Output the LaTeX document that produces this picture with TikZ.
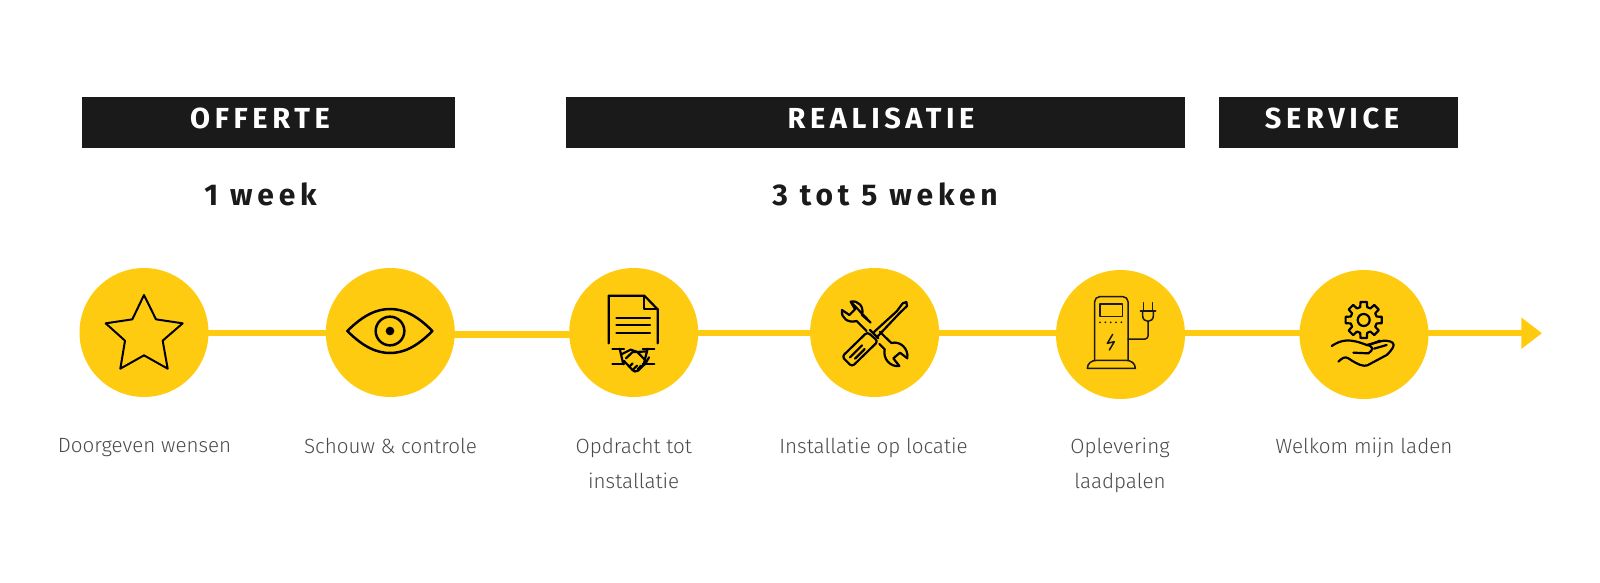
\documentclass[tikz,border=0pt]{standalone}
\usepackage{fontspec}
\usetikzlibrary{arrows.meta}
\setmainfont{Fira Sans Light}
\newfontfamily\headfont[LetterSpace=16]{Fira Sans}
\newfontfamily\weekfont[LetterSpace=16]{Fira Sans}
\definecolor{laadgeel}{HTML}{FFCB11}
\definecolor{balk}{HTML}{1A1A1A}
\definecolor{tekst}{HTML}{4A4A4A}
\tikzset{
  stapnode/.style={circle,fill=laadgeel,minimum size=64.5pt,inner sep=0},
  stroom/.style={draw=laadgeel,line width=3.25pt},
  balknode/.style={fill=balk,inner sep=0,anchor=north west},
  kop/.style={text=white,font=\headfont\bfseries\fontsize{14.5}{16}\selectfont,anchor=base},
  duur/.style={text=balk,font=\weekfont\bfseries\fontsize{15}{16}\selectfont,anchor=base},
  label/.style={text=tekst,font=\fontsize{10.3}{17.2}\selectfont,align=center,anchor=north,inner sep=0},
  % icons are typed in coordinates of the zoomed crop
  icoon/.style={shift={#1},x=0.16667pt,y=-0.16667pt,line join=round,line cap=round},
  lijn/.style={draw=black,line width=1.1pt},
  dunlijn/.style={draw=balk,line width=0.75pt}
}
\begin{document}
\begin{tikzpicture}[x=0.5pt,y=-0.5pt]
  \useasboundingbox (0,0) rectangle (1600,583);
  % BARS
  \node[balknode,minimum width=186.5pt,minimum height=25.4pt] (offerte) at (81.3,96.6) {};
  \node[balknode,minimum width=309.5pt,minimum height=25.4pt] (realisatie) at (566,96.6) {};
  \node[balknode,minimum width=119.5pt,minimum height=25.4pt] (service) at (1218.8,96.6) {};
  \node[kop] (kop1) at (260,128) {OFFERTE};
  \node[kop] (kop2) at (881,128) {REALISATIE};
  \node[kop] (kop3) at (1332,128) {SERVICE};
  \node[duur] (duur1) at (260.5,205) {1 week};
  \node[duur] (duur2) at (885,205) {3 tot 5 weken};
  % CIRCLES
  \node[stapnode] (n1) at (144,332.5) {};
  \node[stapnode] (n2) at (390.3,332.5) {};
  \node[stapnode] (n3) at (633.7,332.5) {};
  \node[stapnode] (n4) at (874.6,332.5) {};
  \node[stapnode] (n5) at (1120.5,334.5) {};
  \node[stapnode] (n6) at (1364,334.5) {};
  % LINE
  \coordinate (hoog) at (0,333.2);
  \coordinate (laag) at (0,334.3);
  \coordinate (tip) at (1542,333.2);
  \draw[stroom] (n1 |- hoog) -- (n2 |- hoog);
  \draw[stroom] (n2 |- laag) -- (n3 |- laag);
  \foreach \a/\b in {n3/n4,n4/n5,n5/n6}
    \draw[stroom] (\a |- hoog) -- (\b |- hoog);
  \draw[stroom,-{Triangle[length=10.3pt,width=15pt]}] (n6 |- hoog) -- (tip);
  % LABELS
  \node[label] (t1) at (144.5,438) {Doorgeven wensen};
  \node[label] (t2) at (390.5,438) {Schouw \& controle};
  \node[label] (t3) at (633.7,438) {Opdracht tot\\installatie};
  \node[label] (t4) at (873.5,438) {Installatie op locatie};
  \node[label] (t5) at (1120,438) {Oplevering\\laadpalen};
  \node[label] (t6) at (1364,438) {Welkom mijn laden};
  % STAR and EYE
  \begin{scope}[icoon={(60,250)}]
    \draw[lijn,line width=1pt] (252,135) -- (288,208) -- (368,220) -- (308,272) -- (323,356) -- (252,316)
      -- (181,356) -- (195,272) -- (137,220) -- (217,208) -- cycle;
    \draw[lijn,line width=1.25pt] (862,243) .. controls (910,195) and (950,177) .. (990,177)
      .. controls (1030,177) and (1070,195) .. (1117,243)
      .. controls (1070,291) and (1030,309) .. (990,309)
      .. controls (950,309) and (910,291) .. (862,243) -- cycle;
    \draw[lijn,line width=1.25pt] (990,243) circle[radius=43];
    \fill[black] (990,243) circle[radius=13];
  \end{scope}
  % DOCUMENT and TOOLS
  \begin{scope}[icoon={(550,250)}]
    \draw[lijn] (176,280) -- (176,137) -- (283,137) -- (323,178) -- (323,280);
    \draw[lijn] (283,137) -- (283,178) -- (323,178);
    \foreach \h in {204,226,248}
      \draw[lijn] (199,\h) -- (300,\h);
    % handshake
    \draw[lijn] (187,296) -- (222,296) (278,296) -- (313,296);
    \draw[lijn] (187,343) -- (222,343) (278,343) -- (313,343);
    \draw[lijn] (209,296) -- (220,343) (293,296) -- (281,343);
    \draw[lijn] (216,312) -- (242,299) -- (262,306) -- (290,304);
    \draw[lijn] (222,333) -- (240,352) .. controls (252,367) and (258,367) .. (264,362)
      -- (286,341) -- (297,322);
    \draw[lijn] (228,325) -- (248,306) -- (262,306) -- (290,335);
    \draw[lijn] (238,350) -- (248,340) (250,358) -- (261,347) (263,358) -- (273,347);
    % wrench
    \draw[lijn] (902,155) -- (915,178) -- (898,195) -- (876,180)
      .. controls (872,205) and (895,220) .. (920,213) -- (950,243)
      (988,282) -- (1004,298) .. controls (998,325) and (1020,352) .. (1048,348)
      -- (1030,325) -- (1050,308) -- (1072,325)
      .. controls (1076,295) and (1050,272) .. (1024,279) -- (990,246)
      (962,218) -- (936,195) .. controls (943,170) and (925,150) .. (902,155) -- cycle;
    % screwdriver
    \draw[lijn,rounded corners=1.5pt] (876,320) -- (952,246) -- (984,274) -- (906,350) -- cycle;
    \draw[lijn] (900,322) -- (936,286) (915,326) -- (944,297);
    \draw[lijn] (960,240) -- (985,265);
    \draw[lijn] (972,246) -- (1040,184) -- (1058,160) -- (1069,156) -- (1071,168) -- (1048,190) -- (984,258);
  \end{scope}
  % CHARGER and HAND
  \begin{scope}[icoon={(1020,250)}]
    \draw[dunlijn,rounded corners=2.5pt] (224,331) -- (224,140) -- (324,140) -- (324,331);
    \draw[dunlijn] (202,355) -- (346,355) .. controls (346,340) and (333,331) .. (318,331)
      -- (230,331) .. controls (215,331) and (202,340) .. (202,355) -- cycle;
    \draw[dunlijn] (240,162) rectangle (307,200);
    \foreach \p in {240,256,272,288,304}
      \fill[balk] (\p,217) circle[radius=3];
    \draw[dunlijn] (278,253) -- (262,280) -- (283,275) -- (268,300);
    \draw[dunlijn,rounded corners=1.5pt] (324,267) -- (384,267) -- (384,214);
    \draw[dunlijn,line width=1.2pt] (362,183) -- (406,183);
    \draw[dunlijn] (368,186) -- (368,198) .. controls (368,208) and (376,214) .. (384,214)
      .. controls (392,214) and (400,208) .. (400,198) -- (400,186);
    \draw[dunlijn] (370,158) -- (370,180) (398,158) -- (398,180);
    % gear
    \begin{scope}[shift={(1031,210)}]
      \draw[lijn] (0,0) circle[radius=18];
      \draw[lijn] (-15:40)
        \foreach \a in {0,45,...,315} { -- (\a-15:40) -- (\a-10:55) -- (\a+10:55) -- (\a+15:40) }
        -- cycle;
    \end{scope}
    % hand
    \draw[lijn] (935,288) .. controls (965,268) and (990,265) .. (1040,285)
      .. controls (1060,287) and (1062,300) .. (1045,310) -- (1000,308);
    \draw[lijn] (1040,285) -- (1090,272) .. controls (1125,272) and (1132,285) .. (1100,315)
      -- (1042,346) .. controls (1030,350) and (1015,345) .. (985,325)
      .. controls (975,318) and (965,325) .. (955,335);
    \draw[lijn] (1055,282) -- (1080,272) (1062,296) -- (1100,285);
  \end{scope}
\end{tikzpicture}
\end{document}
